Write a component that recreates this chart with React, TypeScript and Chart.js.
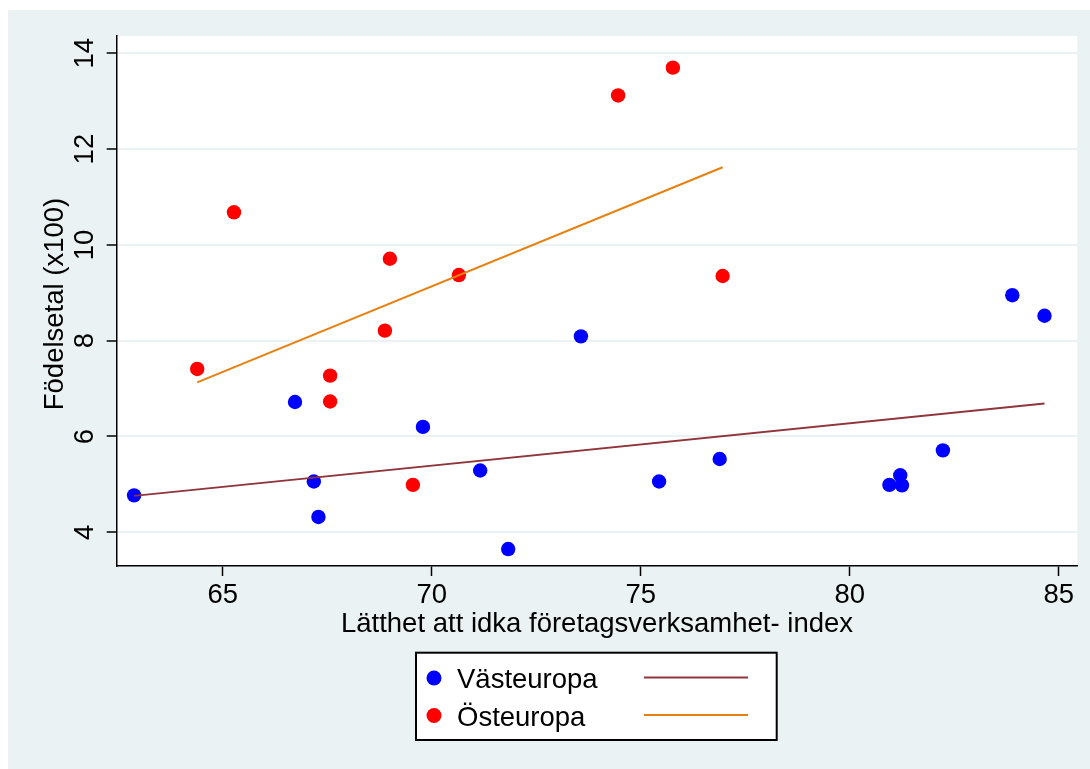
import React, { useEffect, useRef } from "react";
import { Chart, registerables } from "chart.js";

Chart.register(...registerables);

// ---- Data ----
const westLabel = "Västeuropa";
const eastLabel = "Östeuropa";

const westX = [62.88, 66.73, 67.18, 67.29, 69.79, 71.16, 71.83, 73.57, 75.44, 76.89, 80.95, 81.21, 81.25, 82.23, 83.89, 84.66];
const westY = [4.77, 6.72, 5.06, 4.32, 6.20, 5.29, 3.65, 8.09, 5.06, 5.53, 4.99, 5.19, 4.98, 5.71, 8.95, 8.52];

const eastX = [64.39, 65.27, 67.57, 67.57, 68.88, 69.00, 69.55, 70.65, 74.46, 75.77, 76.96];
const eastY = [7.41, 10.68, 7.27, 6.73, 8.21, 9.71, 4.99, 9.37, 13.12, 13.70, 9.35];

const westFitX = [62.88, 84.66];
const westFitY = [4.76, 6.69];
const eastFitX = [64.39, 76.96];
const eastFitY = [7.13, 11.62];

const xTicks = [65, 70, 75, 80, 85];
const yTicks = [4, 6, 8, 10, 12, 14];

const xTitle = "Lätthet att idka företagsverksamhet- index";
const yTitle = "Födelsetal (x100)";

// ---- Styles ----
const BG = "#EAF2F3";
const FONT = "27.5px 'Liberation Sans', Arial, Helvetica, sans-serif";
const W = 1082;
const H = 759;

const stataPlugin = {
  id: "stataDecor",
  beforeDraw(chart: any) {
    const { ctx, chartArea: a } = chart;
    ctx.save();
    ctx.fillStyle = BG;
    ctx.fillRect(0, 0, chart.width, chart.height);
    ctx.fillStyle = "#ffffff";
    ctx.fillRect(a.left, a.top, a.right - a.left, a.bottom - a.top);
    ctx.restore();
  },
  afterDraw(chart: any) {
    const { ctx, chartArea: a } = chart;
    const xs = chart.scales.x;
    const ys = chart.scales.y;
    ctx.save();
    ctx.fillStyle = "#000";
    ctx.font = FONT;
    ctx.textBaseline = "alphabetic";

    // x tick labels
    ctx.textAlign = "center";
    xTicks.forEach((v) => {
      ctx.fillText(String(v), xs.getPixelForValue(v), 593);
    });

    // y tick labels (rotated)
    yTicks.forEach((v) => {
      ctx.save();
      ctx.translate(85, ys.getPixelForValue(v));
      ctx.rotate(-Math.PI / 2);
      ctx.textAlign = "center";
      ctx.fillText(String(v), 0, 0);
      ctx.restore();
    });

    // x title
    ctx.textAlign = "center";
    ctx.fillText(xTitle, (a.left + a.right) / 2, 622);

    // y title
    ctx.save();
    ctx.translate(55.3, 294);
    ctx.rotate(-Math.PI / 2);
    ctx.textAlign = "center";
    ctx.fillText(yTitle, 0, 0);
    ctx.restore();

    // legend
    const bx = 408, by = 642.7, bw = 360.7, bh = 87.3;
    ctx.fillStyle = "#ffffff";
    ctx.fillRect(bx, by, bw, bh);
    ctx.strokeStyle = "#000";
    ctx.lineWidth = 2;
    ctx.strokeRect(bx, by, bw, bh);

    const ds = chart.data.datasets;
    const rows = [
      { dot: ds[2], line: ds[0], y: 668, base: 678.3 },
      { dot: ds[3], line: ds[1], y: 705.5, base: 715.7 },
    ];
    rows.forEach((r) => {
      ctx.fillStyle = r.dot.backgroundColor;
      ctx.beginPath();
      ctx.arc(426, r.y, 7.5, 0, Math.PI * 2);
      ctx.fill();
      ctx.fillStyle = "#000";
      ctx.textAlign = "left";
      ctx.fillText(r.dot.label, 449, r.base);
      ctx.strokeStyle = r.line.borderColor;
      ctx.lineWidth = 2;
      ctx.beginPath();
      ctx.moveTo(636, r.y - 0.5);
      ctx.lineTo(740, r.y - 0.5);
      ctx.stroke();
    });
    ctx.restore();
  },
};

export default function App() {
  const ref = useRef<HTMLCanvasElement | null>(null);

  useEffect(() => {
    if (!ref.current) return;
    const chart = new Chart(ref.current, {
      type: "scatter",
      data: {
        datasets: [
          {
            type: "line",
            label: westLabel + " fit",
            data: westFitX.map((x, i) => ({ x, y: westFitY[i] })),
            borderColor: "#90353B",
            borderWidth: 2,
            pointRadius: 0,
            fill: false,
            tension: 0,
            order: 0,
          },
          {
            type: "line",
            label: eastLabel + " fit",
            data: eastFitX.map((x, i) => ({ x, y: eastFitY[i] })),
            borderColor: "#E8800F",
            borderWidth: 2,
            pointRadius: 0,
            fill: false,
            tension: 0,
            order: 0,
          },
          {
            label: westLabel,
            data: westX.map((x, i) => ({ x, y: westY[i] })),
            backgroundColor: "#0000FF",
            borderWidth: 0,
            pointRadius: 7.2,
            order: 1,
          },
          {
            label: eastLabel,
            data: eastX.map((x, i) => ({ x, y: eastY[i] })),
            backgroundColor: "#FF0000",
            borderWidth: 0,
            pointRadius: 7.2,
            order: 1,
          },
        ] as any,
      },
      options: {
        responsive: false,
        animation: false,
        devicePixelRatio: 1,
        events: [],
        layout: { padding: { left: 0, top: 26, right: 12.7, bottom: 0 } },
        plugins: { legend: { display: false }, tooltip: { enabled: false } },
        scales: {
          x: {
            type: "linear",
            min: 62.464,
            max: 85.445,
            afterBuildTicks: (s: any) => {
              s.ticks = xTicks.map((v) => ({ value: v }));
            },
            afterFit: (s: any) => {
              s.height = 203;
            },
            ticks: { display: false },
            grid: {
              drawOnChartArea: false,
              color: "rgba(0,0,0,0)",
              tickColor: "#000",
              tickLength: 10,
              tickWidth: 1.5,
            },
            border: { display: true, color: "#000", width: 1.5 },
          },
          y: {
            type: "linear",
            min: 3.296,
            max: 14.361,
            afterBuildTicks: (s: any) => {
              s.ticks = yTicks.map((v) => ({ value: v }));
            },
            afterFit: (s: any) => {
              s.width = 108.7;
            },
            ticks: { display: false },
            grid: {
              drawOnChartArea: true,
              color: BG,
              lineWidth: 2,
              tickColor: "#000",
              tickLength: 10,
              tickWidth: 1.5,
            },
            border: { display: true, color: "#000", width: 1.5 },
          },
        },
      } as any,
      plugins: [stataPlugin],
    });
    return () => chart.destroy();
  }, []);

  return (
    <div
      style={{
        position: "fixed",
        left: 8,
        top: 10,
        width: W,
        height: H,
        background: BG,
      }}
    >
      <canvas ref={ref} width={W} height={H} style={{ display: "block" }} />
    </div>
  );
}
